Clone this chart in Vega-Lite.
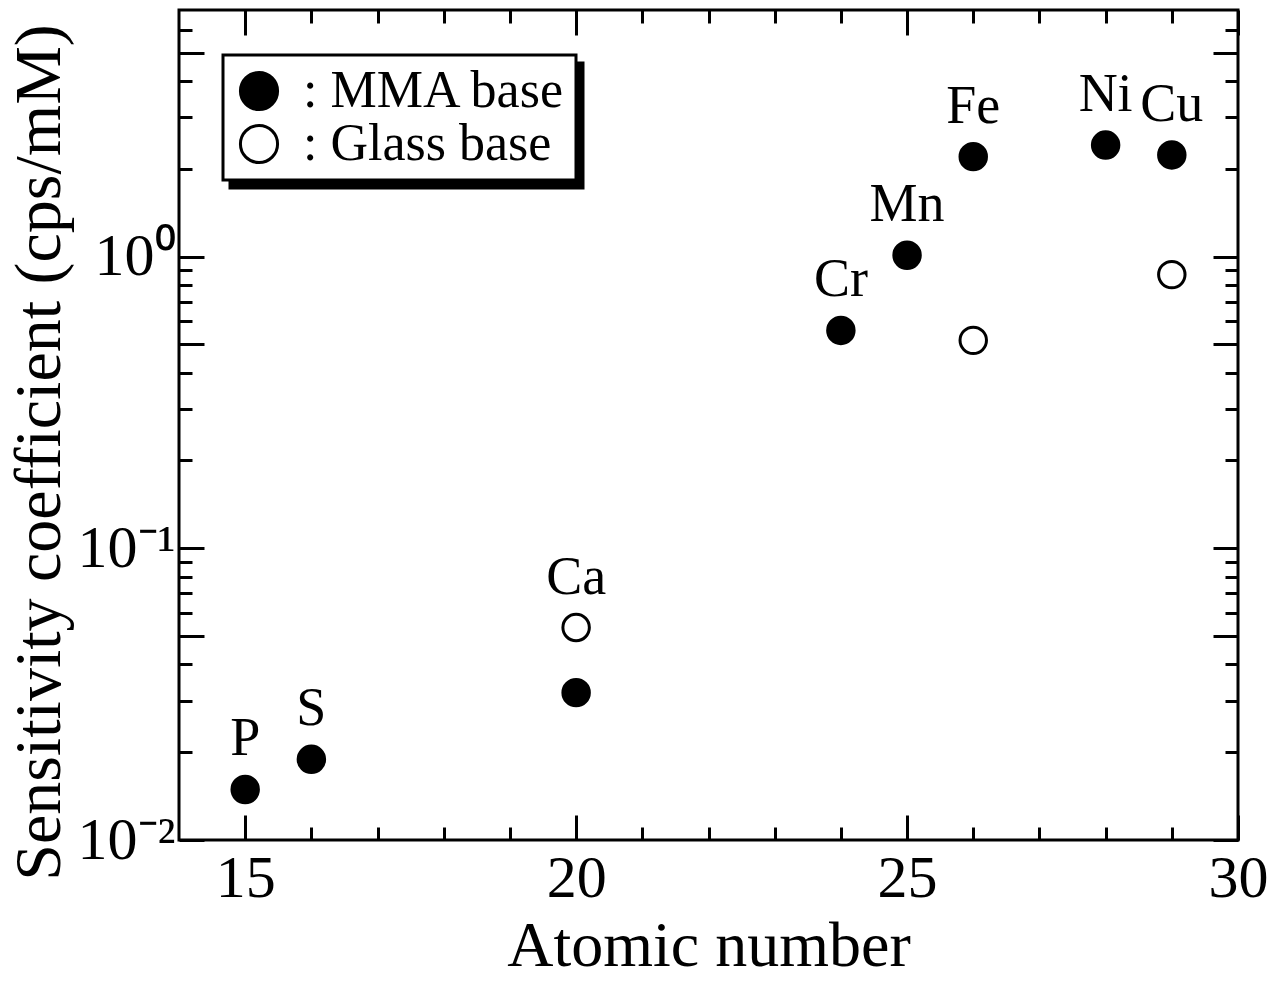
{
  "$schema": "https://vega.github.io/schema/vega-lite/v6.json",
  "width": 1059,
  "height": 830,
  "autosize": "none",
  "padding": {"left": 179, "top": 10, "right": 39, "bottom": 145},
  "background": "white",
  "config": {
    "view": {"stroke": "black", "strokeWidth": 3},
    "font": "Liberation Serif",
    "axis": {
      "domain": false,
      "grid": false,
      "tickColor": "black",
      "tickWidth": 3,
      "labelFont": "Liberation Serif",
      "labelFontSize": 60,
      "labelColor": "black",
      "titleFont": "Liberation Serif",
      "titleFontSize": 64,
      "titleFontWeight": "normal",
      "titleColor": "black",
      "labelOverlap": false,
      "labelFlush": false
    }
  },
  "datasets": {
    "points": [
      {"Z": 15, "value": 0.0149, "base": "MMA base", "label": "P"},
      {"Z": 16, "value": 0.0189, "base": "MMA base", "label": "S"},
      {"Z": 20, "value": 0.032, "base": "MMA base", "label": ""},
      {"Z": 24, "value": 0.558, "base": "MMA base", "label": "Cr"},
      {"Z": 25, "value": 1.01, "base": "MMA base", "label": "Mn"},
      {"Z": 26, "value": 2.2, "base": "MMA base", "label": "Fe"},
      {"Z": 28, "value": 2.41, "base": "MMA base", "label": "Ni"},
      {"Z": 29, "value": 2.23, "base": "MMA base", "label": "Cu"},
      {"Z": 20, "value": 0.0535, "base": "Glass base", "label": "Ca"},
      {"Z": 26, "value": 0.516, "base": "Glass base", "label": ""},
      {"Z": 29, "value": 0.867, "base": "Glass base", "label": ""}
    ]
  },
  "data": {"name": "points"},
  "layer": [
    {
      "mark": {"type": "point", "filled": true, "shape": "circle", "size": 0, "opacity": 0},
      "encoding": {
        "x": {"field": "Z", "type": "quantitative", "axis": null},
        "y": {"field": "value", "type": "quantitative", "axis": null},
        "color": {
          "field": "base", "type": "nominal",
          "scale": {"domain": ["MMA base", "Glass base"], "range": ["black", "black"]},
          "legend": {
            "orient": "none",
            "legendX": 51,
            "legendY": 53,
            "title": null,
            "labelExpr": "'\u2003'",
            "symbolType": "circle",
            "symbolSize": 1380,
            "symbolStrokeColor": "black",
            "symbolStrokeWidth": 3,
            "symbolOpacity": 1,
            "labelFont": "Liberation Serif",
            "labelFontSize": 52,
            "labelColor": "black",
            "labelOffset": 281,
            "labelLimit": 600,
            "strokeColor": "black",
            "fillColor": "black",
            "padding": 10,
            "rowPadding": 1,
            "encode": {"legend": {"update": {"strokeWidth": {"value": 3}}}}
          }
        }
      }
    },
    {
      "mark": {"type": "point", "filled": true, "shape": "circle", "size": 700, "stroke": "black", "strokeWidth": 3, "opacity": 1},
      "encoding": {
        "x": {
          "field": "Z", "type": "quantitative",
          "scale": {"domain": [14, 30], "nice": false, "zero": false},
          "axis": {
            "orient": "bottom",
            "values": [15, 16, 17, 18, 19, 20, 21, 22, 23, 24, 25, 26, 27, 28, 29, 30],
            "tickSize": {"condition": {"test": "datum.value % 5 === 0", "value": -25}, "value": -13},
            "labelExpr": "datum.value % 5 === 0 ? datum.label : ''",
            "labelPadding": 34,
            "title": "Atomic number",
            "titlePadding": -6
          }
        },
        "y": {
          "field": "value", "type": "quantitative",
          "scale": {"type": "log", "domain": [0.01, 7], "nice": false},
          "axis": {
            "orient": "left",
            "values": [0.01, 0.02, 0.03, 0.04, 0.05, 0.06, 0.07, 0.08, 0.09, 0.1, 0.2, 0.3, 0.4, 0.5, 0.6, 0.7, 0.8, 0.9, 1, 2, 3, 4, 5, 6],
            "tickSize": {"condition": {"test": "indexof([0.01, 0.05, 0.1, 0.5, 1, 5], datum.value) >= 0", "value": -25}, "value": -13},
            "labelExpr": "datum.value === 1 ? '10⁰' : datum.value === 0.1 ? '10⁻¹' : datum.value === 0.01 ? '10⁻²' : ''",
            "labelPadding": 29,
            "labelBaseline": "middle",
            "title": "Sensitivity coefficient (cps/mM)",
            "titleFontSize": 66,
            "titlePadding": 4,
            "titleY": 442
          }
        },
        "fill": {
          "field": "base", "type": "nominal",
          "sort": ["MMA base", "Glass base"],
          "scale": {"range": ["black", "white"]},
          "legend": {
            "orient": "none",
            "legendX": 44,
            "legendY": 45,
            "title": null,
            "labelExpr": "': ' + datum.label",
            "symbolType": "circle",
            "symbolSize": 1380,
            "symbolStrokeColor": "black",
            "symbolStrokeWidth": 3,
            "symbolOpacity": 1,
            "labelFont": "Liberation Serif",
            "labelFontSize": 52,
            "labelColor": "black",
            "labelOffset": 18,
            "labelLimit": 600,
            "strokeColor": "black",
            "fillColor": "white",
            "padding": 10,
            "rowPadding": 1,
            "encode": {"legend": {"update": {"strokeWidth": {"value": 3}}}}
          }
        }
      }
    },
    {
      "transform": [{"filter": "datum.label !== ''"}],
      "mark": {"type": "text", "font": "Liberation Serif", "fontSize": 54, "color": "black", "baseline": "middle", "align": "center", "dy": -50},
      "encoding": {
        "text": {"field": "label"},
        "x": {
          "field": "Z", "type": "quantitative",
          "axis": {
            "orient": "top",
            "values": [15, 16, 17, 18, 19, 20, 21, 22, 23, 24, 25, 26, 27, 28, 29, 30],
            "tickSize": {"condition": {"test": "datum.value % 5 === 0", "value": -25}, "value": -13},
            "labels": false,
            "title": null
          }
        },
        "y": {
          "field": "value", "type": "quantitative",
          "axis": {
            "orient": "right",
            "values": [0.01, 0.02, 0.03, 0.04, 0.05, 0.06, 0.07, 0.08, 0.09, 0.1, 0.2, 0.3, 0.4, 0.5, 0.6, 0.7, 0.8, 0.9, 1, 2, 3, 4, 5, 6],
            "tickSize": {"condition": {"test": "indexof([0.01, 0.05, 0.1, 0.5, 1, 5], datum.value) >= 0", "value": -25}, "value": -13},
            "labels": false,
            "title": null
          }
        }
      }
    }
  ],
  "resolve": {"axis": {"x": "independent", "y": "independent"}}
}
